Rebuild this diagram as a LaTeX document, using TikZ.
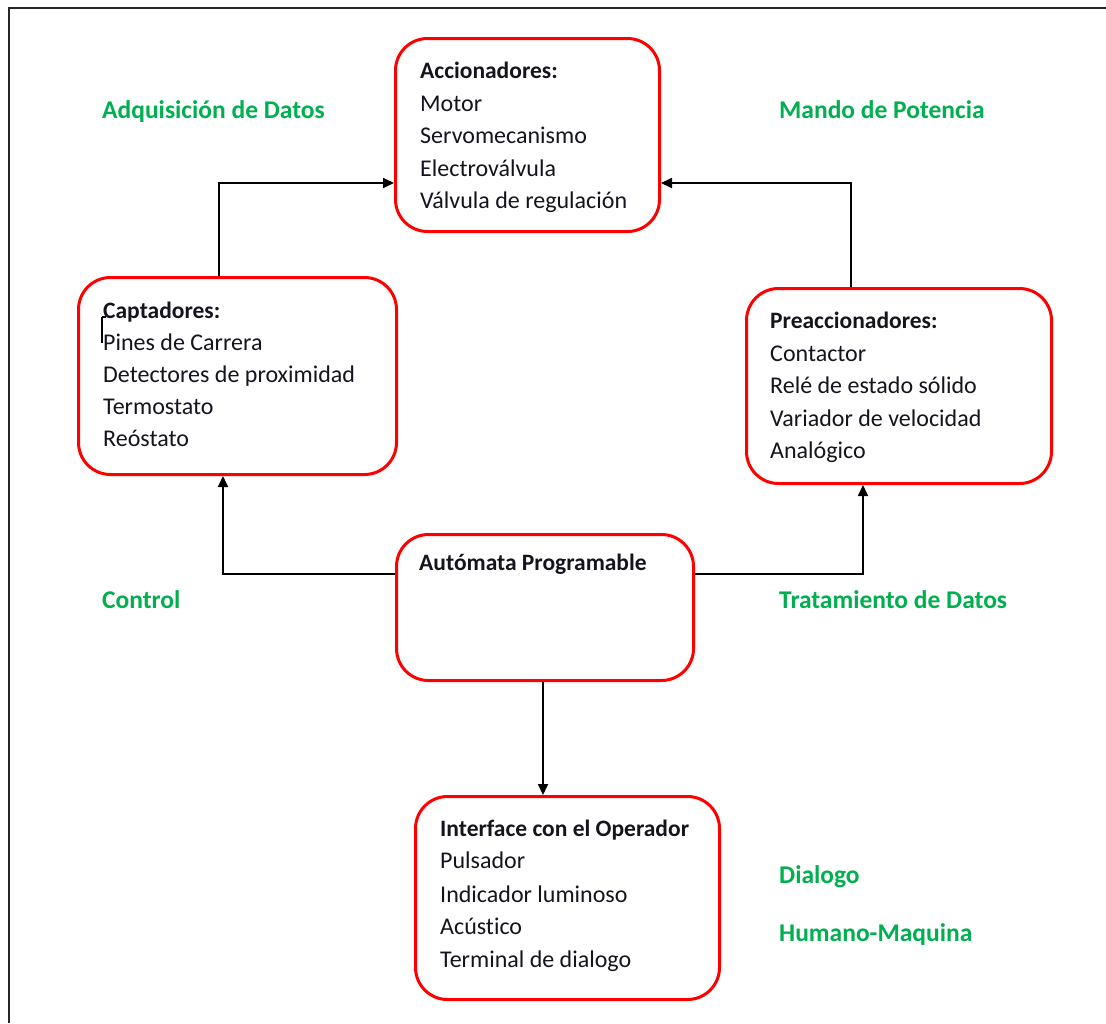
\documentclass[tikz,border=0pt]{standalone}
\usepackage{fontspec}
\setmainfont{Carlito}[Ligatures={NoCommon,NoRare,NoDiscretionary}]
\usetikzlibrary{arrows.meta}
\definecolor{boxred}{RGB}{255,0,0}
\definecolor{labelgreen}{RGB}{0,176,80}
\definecolor{ink}{RGB}{20,20,30}
\begin{document}
\begin{tikzpicture}[x=1pt,y=-1pt,
  block/.style={draw=boxred, line width=3pt, rounded corners=32pt, anchor=north west, inner sep=0pt},
  txt/.style={anchor=base west, inner sep=0pt, text=ink, font=\fontsize{24}{24}\selectfont},
  head/.style={txt, font=\fontsize{23.5}{24}\selectfont\bfseries},
  area/.style={anchor=base west, inner sep=0pt, text=labelgreen, font=\fontsize{25.5}{26}\selectfont\bfseries},
  arr/.style={draw=black, line width=1.8pt, -{Triangle[length=11pt,width=10pt]}}]
\useasboundingbox (0,0) rectangle (1106,1023);
\fill[white] (0,0) rectangle (1106,1023);
% page frame (top and left edges)
\draw[line width=2.5pt, black!85] (1106,8) -- (9,8) -- (9,1023);

% blocks
\node[block, minimum width=264pt, minimum height=193pt] (acc) at (394,37) {};
\node[block, minimum width=318pt, minimum height=197pt] (capt) at (77,276) {};
\node[block, minimum width=305pt, minimum height=195pt] (prea) at (745,287) {};
\node[block, minimum width=297pt, minimum height=146pt] (plc) at (395,533) {};
\node[block, minimum width=304pt, minimum height=203pt] (hmi) at (414,795) {};

% Accionadores
\node[head] (acc0) at (420,78) {Accionadores:};
\node[txt] (acc1) at (420,111) {Motor};
\node[txt] (acc2) at (420,143) {Servomecanismo};
\node[txt] (acc3) at (420,176) {Electroválvula};
\node[txt] (acc4) at (420,208) {Válvula de regulación};

% Captadores
\node[head] (capt0) at (103,318) {Captadores:};
\node[txt] (capt1) at (103,350) {Pines de Carrera};
\node[txt] (capt2) at (103,382) {Detectores de proximidad};
\node[txt] (capt3) at (103,414) {Termostato};
\node[txt] (capt4) at (103,446) {Reóstato};
% text cursor
\draw[line width=2.5pt, black] (102,317) -- (102,343);
\draw[line width=1.2pt, black] (102,317) -- (106,317);

% Preaccionadores
\node[head] (prea0) at (770,328) {Preaccionadores:};
\node[txt] (prea1) at (770,361) {Contactor};
\node[txt] (prea2) at (770,393) {Relé de estado sólido};
\node[txt] (prea3) at (770,426) {Variador de velocidad};
\node[txt] (prea4) at (770,458) {Analógico};

% Autómata
\node[head] (plc0) at (419,570) {Autómata Programable};

% Interface
\node[head] (hmi0) at (440,836) {Interface con el Operador};
\node[txt] (hmi1) at (440,868) {Pulsador};
\node[txt] (hmi2) at (440,902) {Indicador luminoso};
\node[txt] (hmi3) at (440,934) {Acústico};
\node[txt] (hmi4) at (440,967) {Terminal de dialogo};

% function labels
\node[area] (l1) at (102,118) {Adquisición de Datos};
\node[area] (l2) at (779,118) {Mando de Potencia};
\node[area] (l3) at (102,608) {Control};
\node[area] (l4) at (779,608) {Tratamiento de Datos};
\node[area] (l5) at (779,883) {Dialogo};
\node[area] (l6) at (779,941) {Humano-Maquina};

% connector routing points
\coordinate (kL) at (219,183);
\coordinate (kR) at (851,183);
\coordinate (kC) at (223,574);
\coordinate (kP) at (863,574);
\coordinate (kD) at (543,0);

% connectors
\draw[arr] (capt.north -| kL) |- (acc.west |- kL);
\draw[arr] (prea.north -| kR) |- (acc.east |- kR);
\draw[arr] (plc.west |- kC) -| (capt.south -| kC);
\draw[arr] (plc.east |- kP) -| (prea.south -| kP);
\draw[arr] (plc.south -| kD) -- (hmi.north -| kD);
\end{tikzpicture}
\end{document}
